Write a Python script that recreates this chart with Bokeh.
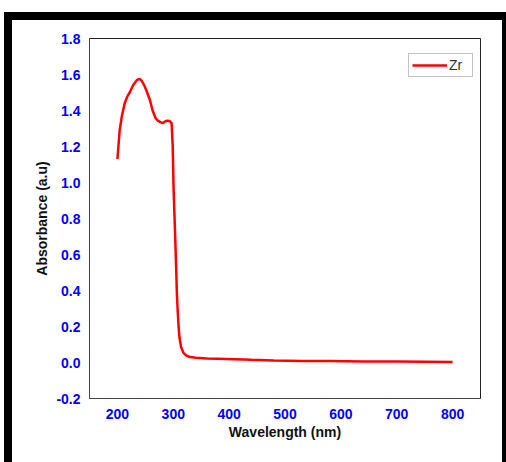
from bokeh.plotting import figure
from bokeh.models import Legend, LegendItem, FixedTicker, PrintfTickFormatter
from bokeh.embed import file_html
from bokeh.resources import INLINE

wavelength = [200, 204, 208, 213, 218, 222, 228, 235, 240, 243, 248, 252, 258, 263,
              268, 272, 277, 281, 286, 290, 294, 297, 299, 300.5, 302, 303.5, 305,
              306.5, 308, 309.5, 311, 314, 318, 323, 330, 341, 360, 395, 440, 480,
              530, 580, 640, 700, 750, 800]
absorbance = [1.13, 1.29, 1.37, 1.44, 1.48, 1.50, 1.54, 1.57, 1.575, 1.567, 1.54, 1.51,
              1.46, 1.40, 1.36, 1.344, 1.335, 1.33, 1.34, 1.344, 1.34, 1.33, 1.20, 0.97,
              0.83, 0.69, 0.54, 0.38, 0.28, 0.20, 0.14, 0.085, 0.055, 0.039, 0.030,
              0.026, 0.022, 0.020, 0.015, 0.011, 0.009, 0.008, 0.006, 0.005, 0.004, 0.003]
x_ticks = [200, 300, 400, 500, 600, 700, 800]
y_ticks = [-0.2, 0.0, 0.2, 0.4, 0.6, 0.8, 1.0, 1.2, 1.4, 1.6, 1.8]
series_name = "Zr"

p = figure(width=490, height=442, output_backend="svg", toolbar_location=None,
           x_range=(150, 850), y_range=(-0.2, 1.8),
           min_border_left=77, min_border_right=34, min_border_top=18, min_border_bottom=72)
p.styles = {"margin-left": "4px", "margin-top": "12px",
            "border-left": "8px solid black", "border-top": "8px solid black",
            "border-right": "4px solid black", "box-sizing": "content-box"}
p.background_fill_color = "white"
p.border_fill_color = "white"
p.outline_line_color = "#222222"
p.outline_line_width = 1
p.grid.visible = False

r = p.line(wavelength, absorbance, line_color="#ff0000", line_width=2.5)

for ax in (p.xaxis[0], p.yaxis[0]):
    ax.major_tick_line_color = None
    ax.minor_tick_line_color = None
    ax.major_tick_out = 0
    ax.major_tick_in = 0
    ax.axis_line_color = "#444444"
    ax.major_label_text_color = "#0000ff"
    ax.major_label_text_font = "Liberation Sans"
    ax.major_label_text_font_style = "bold"
    ax.major_label_text_font_size = "14px"
    ax.axis_label_text_font = "Liberation Sans"
    ax.axis_label_text_font_style = "bold"
    ax.axis_label_text_font_size = "14px"
    ax.axis_label_text_color = "#111111"

p.xaxis[0].ticker = FixedTicker(ticks=x_ticks)
p.yaxis[0].ticker = FixedTicker(ticks=y_ticks)
p.yaxis[0].formatter = PrintfTickFormatter(format="%.1f")
p.xaxis[0].axis_label = "Wavelength (nm)"
p.yaxis[0].axis_label = "Absorbance (a.u)"
p.xaxis[0].major_label_standoff = 10
p.xaxis[0].axis_label_standoff = 2
p.yaxis[0].major_label_standoff = 9
p.yaxis[0].axis_label_standoff = 3

legend = Legend(items=[LegendItem(label=series_name, renderers=[r])],
                location=(319, 321), orientation="vertical")
legend.border_line_color = "#888888"
legend.border_line_width = 1
legend.padding = 3
legend.margin = 0
legend.spacing = 0
legend.glyph_width = 35
legend.glyph_height = 14
legend.label_height = 14
legend.label_standoff = 2
legend.label_text_font = "Liberation Sans"
legend.label_text_font_size = "14px"
legend.label_text_color = "#333333"
legend.background_fill_color = "white"
p.add_layout(legend)

open("out.html", "w").write(file_html(p, INLINE))
